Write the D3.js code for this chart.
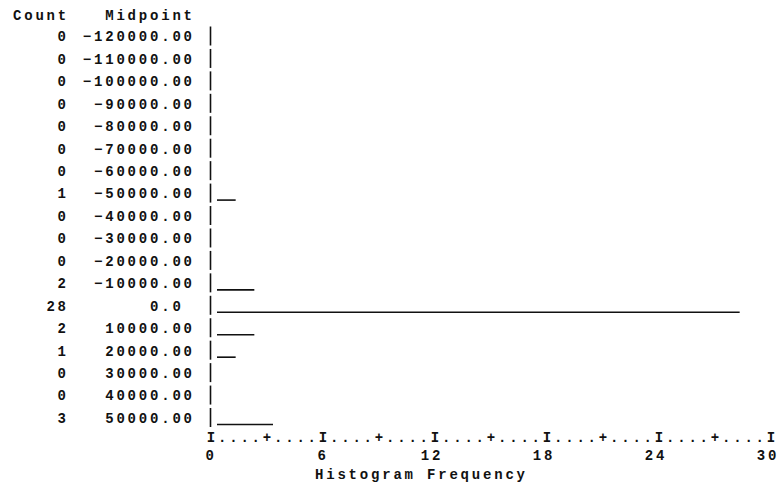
<!DOCTYPE html>
<html>
<head>
<meta charset="utf-8">
<script src="https://cdn.jsdelivr.net/npm/d3@7"></script>
<style>
  body { margin: 0; background: #fff; }
  svg text { font-family: "Liberation Mono", "DejaVu Sans Mono", monospace; font-weight: bold; font-size: 14px; fill: #111; white-space: pre; }
</style>
</head>
<body>
<div id="chart"></div>
<script>
// histogram rows, as printed
var midpoints = [-120000, -110000, -100000, -90000, -80000, -70000, -60000, -50000, -40000,
                 -30000, -20000, -10000, 0, 10000, 20000, 30000, 40000, 50000]
var counts = [0, 0, 0, 0, 0, 0, 0, 1, 0, 0, 0, 2, 28, 2, 1, 0, 0, 3]
var tickValues = [0, 6, 12, 18, 24, 30]
var xTitle = "Histogram Frequency"

var width = 781, height = 493
  , cw = 11.2          // character cell width of the printout
  , ls = 2.8           // letter spacing that gives that cell width at 14px

var svg = d3.select('#chart').append('svg')
    .attr('width', width)
    .attr('height', height)

// Scales

var x = d3.scaleLinear()
  .domain([0, 30])
  .range([211, 771])

var y = d3.scalePoint()
  .domain(midpoints)
  .range([36.5, 418])

var rows = midpoints.map(function(m, i) { return {mid: m, count: counts[i]} })

function fmtMid(v) {
  return v === 0 ? "0.0 " : d3.format(".2f")(v)
}

// text placed on the character grid, glyph right edge at xr
function gridStart(str, xr) {
  return xr - (str.length * cw - ls)
}

var g = svg.append('g')
  .style('letter-spacing', ls + 'px')

// Headers

g.append('text')
  .attr('x', 13)
  .attr('y', 15)
  .attr('dy', '0.35em')
  .text('Count')

g.append('text')
  .attr('x', gridStart('Midpoint', 192))
  .attr('y', 15)
  .attr('dy', '0.35em')
  .text('Midpoint')

// Row labels

g.selectAll('.count')
  .data(rows)
  .enter().append('text')
  .attr('class', 'count')
  .attr('x', function(d) { return gridStart(String(d.count), 66) })
  .attr('y', function(d) { return y(d.mid) })
  .attr('dy', '0.35em')
  .text(function(d) { return d.count })

g.selectAll('.mid')
  .data(rows)
  .enter().append('text')
  .attr('class', 'mid')
  .attr('x', function(d) { return gridStart(fmtMid(d.mid), 192) })
  .attr('y', function(d) { return y(d.mid) })
  .attr('dy', '0.35em')
  .text(function(d) { return fmtMid(d.mid) })

// Vertical axis, one "|" per row

svg.selectAll('.vbar')
  .data(rows)
  .enter().append('line')
  .attr('class', 'vbar')
  .attr('x1', x(0) - 0.5)
  .attr('x2', x(0) - 0.5)
  .attr('y1', function(d) { return y(d.mid) - 10 })
  .attr('y2', function(d) { return y(d.mid) + 9 })
  .attr('stroke', '#111')
  .attr('stroke-width', 1.6)

// Bars (underscores)

svg.selectAll('.bar')
  .data(rows.filter(function(d) { return d.count > 0 }))
  .enter().append('line')
  .attr('class', 'bar')
  .attr('x1', x(0) + 6)
  .attr('x2', function(d) { return x(d.count) + 6 })
  .attr('y1', function(d) { return y(d.mid) + 6.5 })
  .attr('y2', function(d) { return y(d.mid) + 6.5 })
  .attr('stroke', '#111')
  .attr('stroke-width', 1.6)

// Horizontal axis: I....+....I  one character every 0.6

var axisChars = d3.range(0, 51).map(function(i) {
  return {v: i * 0.6, ch: i % 10 === 0 ? 'I' : (i % 5 === 0 ? '+' : '.')}
})

svg.selectAll('.tickch')
  .data(axisChars)
  .enter().append('text')
  .attr('class', 'tickch')
  .attr('x', function(d) { return x(d.v) })
  .attr('y', 437)
  .attr('dy', '0.35em')
  .attr('text-anchor', 'middle')
  .text(function(d) { return d.ch })

// two-digit labels sit a little left of their I, as in the printout
svg.selectAll('.ticklab')
  .data(tickValues)
  .enter().append('text')
  .attr('class', 'ticklab')
  .attr('x', function(d) { return x(d) - (String(d).length - 1) * 3 })
  .attr('y', 455)
  .attr('dy', '0.35em')
  .attr('text-anchor', 'middle')
  .style('letter-spacing', ls + 'px')
  .text(function(d) { return d })

g.append('text')
  .attr('x', 420 - (xTitle.length * cw - ls) / 2)
  .attr('y', 474)
  .attr('dy', '0.35em')
  .text(xTitle)
</script>
</body>
</html>
